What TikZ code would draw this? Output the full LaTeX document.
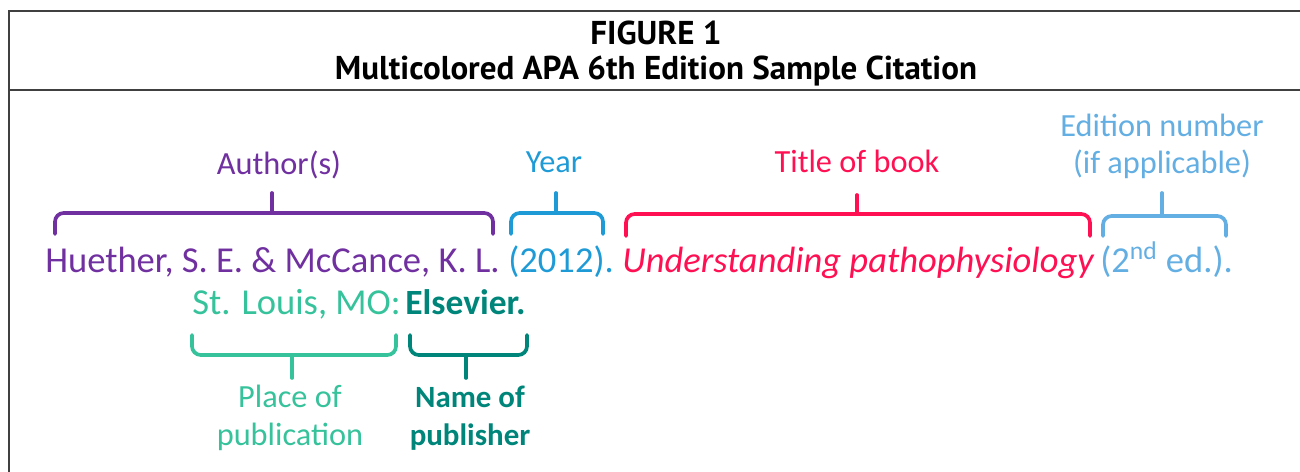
\documentclass[tikz,border=0pt]{standalone}
\usepackage{fontspec}
\setmainfont{Carlito}
\newfontfamily\headfont{PT Sans}
\usetikzlibrary{calc}
\definecolor{FrameClr}{RGB}{64,64,64}
\definecolor{AuthClr}{RGB}{112,48,160}
\definecolor{YearClr}{RGB}{30,155,215}
\definecolor{TitleClr}{RGB}{255,16,83}
\definecolor{EdClr}{RGB}{99,174,226}
\definecolor{PlaceClr}{RGB}{54,194,155}
\definecolor{PubClr}{RGB}{0,133,122}

% brace: colour, left x, right x, y of bar, y of ends, y of tick, x of tick
\newcommand{\citebrace}[7]{%
  \draw[bracestyle,#1,rounded corners=5] (#2,#5) -- (#2,#4) -- (#3,#4) -- (#3,#5);
  \draw[bracestyle,#1] (#7,#4) -- (#7,#6);}

\begin{document}
\begin{tikzpicture}[x=0.02cm,y=-0.02cm,
  bracestyle/.style={line width=2.1pt,line cap=round},
  txt/.style={inner sep=0pt,font=\fontsize{20.8}{21.2}\selectfont},
  lbl/.style={inner sep=0pt,align=center,anchor=base,font=\fontsize{18.4}{21.2}\selectfont},
  head/.style={inner sep=0pt,anchor=base,font=\headfont\bfseries\fontsize{18.8}{20}\selectfont}]

\useasboundingbox (0,0) rectangle (1300,472);

% frame
\draw[FrameClr,line width=1.1pt] (1300,11) -- (9,11) -- (9,472);
\draw[FrameClr,line width=1.1pt] (9,90) -- (1300,90);

\node[head] (fig) at (656,45) {FIGURE 1};
\node[head] (ttl) at (656,80) {Multicolored APA 6th Edition Sample Citation};

% citation line
\node[txt,anchor=base west,AuthClr] (auth) at (45,273) {Huether, S. E. \& McCance, K. L.};
\node[txt,anchor=base west,YearClr] (yr) at (508,273) {(2012).};
\node[txt,anchor=base west,TitleClr] (book) at (622,273) {\itshape Understanding pathophysiology};
\node[txt,anchor=base west,EdClr] (ed) at (1100,273) {(2\textsuperscript{nd} ed.).};
\node[txt,anchor=base west,PlaceClr] (place) at (192,315) {St. Louis, MO:};
\node[txt,anchor=base west,PubClr,font=\bfseries\fontsize{20.2}{21.2}\selectfont] (pub) at (405,315) {Elsevier.};

% labels (base = last line)
\node[lbl,AuthClr] (lauth) at (279,175) {Author(s)};
\node[lbl,YearClr] (lyr) at (554,173) {Year};
\node[lbl,TitleClr] (lbook) at (857,173) {Title of book};
\node[lbl,EdClr] (led) at (1162,174) {Edition number\\(if applicable)};
\node[lbl,PlaceClr] (lplace) at (290,445) {Place of\\publication};
\node[lbl,PubClr,font=\bfseries\fontsize{17.6}{21.2}\selectfont] (lpub) at (470,445) {Name of\\publisher};

% braces
\citebrace{AuthClr}{55}{493}{213}{234}{193}{272}
\citebrace{YearClr}{511}{603}{213}{234}{193}{556}
\citebrace{TitleClr}{626}{1090}{214}{236}{195}{857}
\citebrace{EdClr}{1103}{1226}{216}{236}{193}{1162}
\citebrace{PlaceClr}{192}{396}{355}{335}{378}{292}
\citebrace{PubClr}{410}{527}{355}{335}{378}{466}

\end{tikzpicture}
\end{document}
